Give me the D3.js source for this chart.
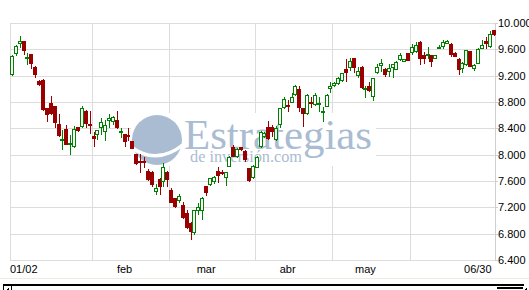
<!DOCTYPE html>
<html>
<head>
<meta charset="utf-8">
<script src="https://cdnjs.cloudflare.com/ajax/libs/d3/7.8.5/d3.min.js"></script>
<style>
	body { margin: 0; background: #fff; }
	svg { display: block; }
	.lbl { font-family: "Liberation Sans", Arial, sans-serif; font-size: 11px; fill: #000; }
	.wm { font-family: "Liberation Serif", "Times New Roman", serif; fill: #a9bcd2; }
</style>
</head>
<body>
<svg id="chart" width="529" height="290"></svg>
<script>
/* --------------------------------------------
 * daily candles, 01/02 - 06/30
 * ============================================
 */

var OPEN = [9210,9534,9681,9722,9453,9529,9332,9114,9140,8709,8785,8735,8466,8223,8395,8152,8112,8415,8420,8668,
	8466,8283,8299,8410,8340,8511,8501,8527,8355,8309,8299,8208,8005,7904,7904,7752,7742,7428,7630,7580,
	7742,7463,7337,7300,7235,7109,6966,6805,7144,7137,7524,7539,7590,7752,7742,7645,7818,8112,7960,8112,
	8060,7793,7640,7803,8116,8268,8425,8415,8223,8451,8705,8754,8790,8906,8993,8705,8618,8805,8754,8754,
	8628,8730,8990,9045,9069,9119,9301,9312,9465,9200,9336,8982,9048,8881,9236,9347,9296,9250,9312,9286,
	9438,9413,9540,9549,9560,9711,9509,9499,9509,9458,9610,9635,9686,9686,9549,9458,9306,9357,9570,9306,
	9382,9610,9727,9635,9889];
var HIGH = [9510,9660,9798,9727,9544,9535,9340,9134,9150,8715,8887,8740,8618,8380,8455,8303,8440,8420,8745,8675,
	8663,8350,8380,8552,8527,8613,8585,8663,8400,8315,8400,8215,8010,8005,7970,7782,7750,7550,7640,7869,
	7750,7490,7345,7402,7285,7160,6975,7165,7266,7362,7530,7650,7676,7813,7760,7740,7975,8147,8095,8120,
	8070,7800,7840,7980,8360,8340,8516,8450,8435,8715,8880,8830,8932,9055,9043,8715,8920,8880,8932,8880,
	8730,8920,9100,9110,9185,9245,9453,9465,9475,9336,9345,9048,9108,9170,9373,9453,9321,9373,9380,9420,
	9540,9460,9550,9686,9711,9720,9560,9635,9520,9520,9660,9737,9740,9695,9555,9465,9405,9595,9580,9375,
	9620,9737,9787,9874,9900];
var LOW = [9195,9499,9620,9514,9357,9306,9164,9050,8660,8496,8610,8405,8270,8076,8140,7990,8105,8340,8410,8405,
	8314,8122,8223,8299,8208,8410,8451,8395,8253,8122,8208,8080,7845,7717,7793,7605,7514,7387,7387,7514,
	7514,7260,7190,7260,7025,6870,6704,6780,7083,7007,7372,7530,7554,7565,7690,7524,7810,7960,7950,8060,
	7889,7585,7630,7795,8100,8260,8223,8263,8215,8405,8695,8652,8780,8895,8652,8415,8605,8705,8745,8652,
	8500,8720,8940,9030,9060,9110,9110,9270,9235,9160,9000,8856,8950,8820,9225,9260,9185,9185,9170,9280,
	9430,9405,9420,9510,9550,9367,9382,9458,9332,9450,9605,9610,9680,9488,9480,9205,9245,9350,9325,9265,
	9375,9600,9610,9625,9805];
var CLOSE = [9499,9651,9722,9570,9484,9377,9206,9054,8683,8607,8618,8481,8279,8238,8152,8177,8395,8355,8709,8466,
	8450,8233,8370,8491,8451,8552,8577,8400,8365,8197,8265,8086,7853,7869,7884,7615,7539,7488,7514,7813,
	7615,7270,7200,7372,7033,6880,6818,7159,7210,7337,7413,7640,7666,7676,7703,7730,7960,7970,8081,8071,
	7919,7600,7828,7960,8349,8329,8233,8349,8400,8705,8841,8720,8880,9043,8705,8618,8906,8770,8906,8780,
	8668,8906,9040,9090,9160,9236,9236,9423,9312,9271,9008,9008,8967,9160,9336,9388,9210,9312,9373,9412,
	9514,9453,9430,9635,9661,9458,9458,9524,9408,9509,9635,9711,9727,9519,9488,9281,9397,9585,9332,9367,
	9610,9671,9676,9838,9813];

var Y_TICKS = [6400, 6800, 7200, 7600, 8000, 8400, 8800, 9200, 9600, 10000];
var MONTH_STARTS = [21, 41, 63, 83, 103];          // first session of feb..jun
var MONTH_LABELS = ["feb", "mar", "abr", "may"];
var MONTH_LABEL_AT = [29, 50, 71, 91];              // session under each month name
var FIRST_LABEL = "01/02";
var LAST_LABEL = "06/30";

var UP_COLOR = "#008000";
var DOWN_COLOR = "#990000";
var GRID_COLOR = "#dcdcdc";

var PLOT_L = 10, PLOT_R = 495, PLOT_T = 23, PLOT_B = 260;

var svg = d3.select("#chart");
var N = OPEN.length;

var x = d3.scaleLinear().domain([-0.5, N - 0.5]).range([PLOT_L, PLOT_R + 0.5]);
var y = d3.scaleLinear().domain([6400, 10000]).range([PLOT_B, PLOT_T]);

var esLocale = d3.formatLocale({ decimal: ",", thousands: ".", grouping: [3], currency: ["", " €"] });
var fmt = esLocale.format(",");

// grid
var grid = svg.append("g").attr("shape-rendering", "crispEdges");

grid.selectAll("line.h").data(Y_TICKS).enter()
	.append("line").attr("class", "h")
	.attr("x1", PLOT_L).attr("x2", PLOT_R)
	.attr("y1", function(d) { return Math.round(y(d)) + 0.5; })
	.attr("y2", function(d) { return Math.round(y(d)) + 0.5; })
	.attr("stroke", GRID_COLOR);

grid.selectAll("line.v").data(MONTH_STARTS).enter()
	.append("line").attr("class", "v")
	.attr("x1", function(d) { return Math.round(x(d - 0.5)) + 0.5; })
	.attr("x2", function(d) { return Math.round(x(d - 0.5)) + 0.5; })
	.attr("y1", PLOT_T).attr("y2", PLOT_B)
	.attr("stroke", GRID_COLOR);

grid.append("line")
	.attr("x1", PLOT_L + 0.5).attr("x2", PLOT_L + 0.5)
	.attr("y1", PLOT_T).attr("y2", PLOT_B)
	.attr("stroke", GRID_COLOR);

grid.append("line")
	.attr("x1", PLOT_R + 0.5).attr("x2", PLOT_R + 0.5)
	.attr("y1", PLOT_T).attr("y2", PLOT_B + 1)
	.attr("stroke", "#cfcfcf");

// watermark (sits over the grid, under the candles)
var wm = svg.append("g");
wm.append("rect")
	.attr("x", 131).attr("y", 113).attr("width", 245).attr("height", 53)
	.attr("fill", "#fff");
wm.append("circle")
	.attr("cx", 157).attr("cy", 140).attr("r", 25)
	.attr("fill", "#a9bcd2");
wm.append("path")
	.attr("d", "M131,147 Q157,166 184,144")
	.attr("fill", "none")
	.attr("stroke", "#fff")
	.attr("stroke-width", 3.5);
wm.append("text").attr("class", "wm")
	.attr("x", 184).attr("y", 149)
	.attr("font-size", 43)
	.attr("textLength", 188).attr("lengthAdjust", "spacingAndGlyphs")
	.text("Estrategias");
wm.append("text").attr("class", "wm")
	.attr("x", 190).attr("y", 162)
	.attr("font-size", 16)
	.attr("textLength", 112).attr("lengthAdjust", "spacingAndGlyphs")
	.text("de inversión.com");

// candles
var candles = svg.append("g").attr("shape-rendering", "crispEdges")
	.selectAll("g.candle").data(d3.range(N)).enter()
	.append("g").attr("class", "candle");

candles.each(function(i) {
	var g = d3.select(this);
	var up = CLOSE[i] >= OPEN[i];
	var cx = Math.round(x(i));
	var top = Math.round(y(Math.max(OPEN[i], CLOSE[i])));
	var bot = Math.round(y(Math.min(OPEN[i], CLOSE[i])));
	var hi = Math.round(y(HIGH[i]));
	var lo = Math.round(y(LOW[i]));
	var color = up ? UP_COLOR : DOWN_COLOR;

	if (bot - top < 2) bot = top + 2;

	// wicks
	g.append("line")
		.attr("x1", cx + 0.5).attr("x2", cx + 0.5)
		.attr("y1", hi).attr("y2", top)
		.attr("stroke", color);
	g.append("line")
		.attr("x1", cx + 0.5).attr("x2", cx + 0.5)
		.attr("y1", bot).attr("y2", lo)
		.attr("stroke", color);

	if (up) {
		g.append("rect")
			.attr("x", cx - 1.5).attr("y", top + 0.5)
			.attr("width", 3).attr("height", Math.max(1, bot - top - 1))
			.attr("fill", "#fff")
			.attr("stroke", color);
	} else {
		g.append("rect")
			.attr("x", cx - 2).attr("y", top)
			.attr("width", 4).attr("height", bot - top)
			.attr("fill", color);
	}
});

// y axis labels (right side)
var yAxis = svg.append("g");
yAxis.selectAll("line").data(Y_TICKS).enter()
	.append("line")
	.attr("shape-rendering", "crispEdges")
	.attr("x1", PLOT_R).attr("x2", PLOT_R + 3)
	.attr("y1", function(d) { return Math.round(y(d)) + 0.5; })
	.attr("y2", function(d) { return Math.round(y(d)) + 0.5; })
	.attr("stroke", "#cfcfcf");
yAxis.selectAll("text").data(Y_TICKS).enter()
	.append("text").attr("class", "lbl")
	.attr("x", 498)
	.attr("y", function(d) { return y(d); })
	.attr("dy", "0.36em")
	.text(function(d) { return fmt(d); });

// x axis labels
var xAxis = svg.append("g");
xAxis.append("text").attr("class", "lbl")
	.attr("x", PLOT_L).attr("y", 273)
	.text(FIRST_LABEL);
xAxis.selectAll("text.m").data(MONTH_LABELS).enter()
	.append("text").attr("class", "lbl m")
	.attr("x", function(d, k) { return x(MONTH_LABEL_AT[k]); })
	.attr("y", 273)
	.attr("text-anchor", "middle")
	.text(function(d) { return d; });
xAxis.append("text").attr("class", "lbl")
	.attr("x", x(N - 1) - 2).attr("y", 273)
	.attr("text-anchor", "end")
	.text(LAST_LABEL);

// navigator strip under the chart
var nav = svg.append("g").attr("shape-rendering", "crispEdges");
nav.append("line")
	.attr("x1", 0).attr("x2", 529).attr("y1", 278.5).attr("y2", 278.5)
	.attr("stroke", "#eeebe2");
nav.append("line")
	.attr("x1", 3).attr("x2", 524).attr("y1", 285).attr("y2", 285)
	.attr("stroke", "#000").attr("stroke-width", 2);
nav.append("rect")
	.attr("x", 3.5).attr("y", 285.5).attr("width", 8).attr("height", 6)
	.attr("fill", "none").attr("stroke", "#000");
nav.append("path")
	.attr("d", "M6,290 L9,287 L9,290 Z").attr("fill", "#000");
nav.append("rect")
	.attr("x", 497).attr("y", 287).attr("width", 26).attr("height", 2)
	.attr("fill", "#000");
nav.append("path")
	.attr("d", "M524,290 L527,287 L527,290 Z").attr("fill", "#000");
</script>
</body>
</html>
